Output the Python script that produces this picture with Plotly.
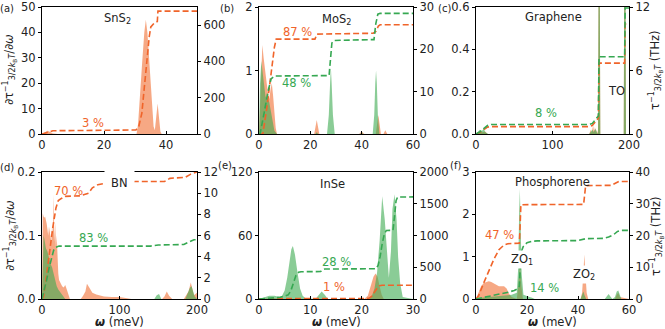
import plotly.graph_objects as go

# ---------------- données ----------------
# (a) SnS2
a_or_x = [0, 1, 1.8, 2.6, 3.5, 5, 30.5, 31, 31.7, 32.3, 33, 33.5, 34, 34.5, 35, 35.5, 36, 36.4, 36.9, 37.3, 37.7, 38.2, 38.6, 50]
a_or_y = [0, 0.8, 1.3, 0.8, 0.2, 0, 0, 4, 15, 28, 40, 45, 40, 30, 20, 10, 3, 1.5, 7, 12, 7, 1, 0, 0]
a_or_cx = [0, 1, 2, 3.5, 30.3, 31.2, 32.2, 33.3, 34.6, 35.1, 36.2, 37.2, 37.4, 50]
a_or_cy = [0, 6, 13, 18, 22, 40, 114, 316, 537, 590, 612, 620, 677, 677]

# (b) MoS2
b_or_x = [0, 0.5, 1, 1.3, 1.8, 2.5, 3, 3.5, 4, 4.5, 5, 5.5, 6, 6.5, 7, 21.5, 22.5, 23.5, 39, 40, 41, 45.5, 46.5, 47.5, 48.5, 49.2, 50, 60]
b_or_y = [0, 0.6, 1.3, 1.4, 1.2, 0.9, 0.8, 0.65, 0.55, 0.7, 0.8, 0.6, 0.3, 0.1, 0, 0, 0.22, 0, 0, 0.04, 0, 0, 0.3, 0, 0, 0.06, 0, 0]
b_gr_x = [0, 0.4, 0.9, 1.4, 2, 2.5, 3, 3.5, 4, 4.5, 5, 5.5, 6, 7, 22, 22.5, 23, 26.5, 27.2, 27.7, 28, 28.3, 28.8, 29.5,
          39.5, 40, 40.5, 44.3, 44.9, 45.3, 45.6, 45.9, 46.3, 46.9, 60]
b_gr_y = [0, 0.8, 1.15, 1.0, 0.75, 0.6, 0.55, 0.55, 0.5, 0.4, 0.3, 0.15, 0.05, 0, 0, 0.03, 0, 0, 0.3, 0.8, 1.05, 0.8, 0.3, 0,
          0, 0.04, 0, 0, 0.3, 0.8, 1.0, 0.8, 0.3, 0, 0]
b_or_cx = [0, 1.5, 3, 4.5, 6, 6.7, 21.8, 22.6, 44.5, 45.5, 46.5, 47.2, 60]
b_or_cy = [0, 0, 6, 14, 20.5, 22.4, 22.4, 23.6, 23.8, 24.2, 25.5, 25.8, 25.8]
b_gr_cx = [0, 0.4, 2, 3.5, 4.7, 6, 27.3, 27.8, 28.4, 29.3, 44.8, 45.5, 46.3, 47.2, 60]
b_gr_cy = [0, 0, 5, 10, 13, 13.7, 13.8, 17, 21.5, 22.1, 22.3, 26, 28.3, 28.5, 28.5]

# (c) Graphene
c_or_x = [0, 3, 6, 9, 12, 15, 148, 150, 151, 152, 153, 154, 155, 156, 157, 158, 159.5, 160.3, 161.7, 162.5, 193.1, 193.9, 195.3, 196.1, 200]
c_or_y = [0, 0.005, 0.01, 0.008, 0.012, 0, 0, 0.02, 0.005, 0.035, 0.01, 0.04, 0.015, 0.03, 0.005, 0.02, 0, 0.8, 0.8, 0, 0, 0.8, 0.8, 0, 0]
c_gr_x = [0, 2, 5, 8, 10, 12, 14, 16, 148, 150, 152, 154, 156, 158, 159.5, 160.3, 161.7, 162.5, 193.1, 193.9, 195.3, 196.1, 200]
c_gr_y = [0, 0.01, 0.02, 0.015, 0.025, 0.01, 0.005, 0, 0, 0.01, 0.02, 0.01, 0.025, 0.01, 0, 0.8, 0.8, 0, 0, 0.8, 0.8, 0, 0]
c_or_cx = [0, 5, 10, 15, 20, 148, 152, 155, 158, 160, 160.8, 194.3, 195, 200]
c_or_cy = [0, 0.15, 0.4, 0.65, 0.7, 0.7, 0.8, 1.1, 1.3, 1.5, 6.7, 6.7, 10.4, 10.4]
c_gr_cx = [0, 5, 10, 15, 20, 148, 152, 156, 158.5, 160, 160.8, 194.3, 195, 200]
c_gr_cy = [0, 0.2, 0.5, 0.8, 0.9, 0.9, 1.0, 1.3, 1.5, 1.7, 7.3, 7.3, 11.9, 11.9]

# (d) BN
d_or_x = [0, 1, 2, 3, 4, 5, 6, 7, 8, 9, 10, 11, 12, 13, 14, 15, 16, 17, 18, 19, 20, 21, 22, 24, 26, 28, 30, 32, 34, 36,
          50, 53, 56, 58, 60, 62, 65, 70, 75, 80, 90, 100, 110, 115, 155, 158, 161, 164, 168, 183, 186, 189, 192, 194, 196, 198, 200]
d_or_y = [0, 0.135, 0.13, 0.128, 0.13, 0.12, 0.119, 0.11, 0.1, 0.114, 0.105, 0.098, 0.09, 0.117, 0.1, 0.164, 0.09, 0.12, 0.08, 0.1, 0.06, 0.04, 0.03, 0.025, 0.02, 0.018, 0.022, 0.015, 0.008, 0,
          0, 0.005, 0.012, 0.024, 0.02, 0.016, 0.01, 0.007, 0.005, 0.004, 0.003, 0.003, 0.001, 0, 0, 0.004, 0.012, 0.005, 0, 0, 0.006, 0.012, 0.026, 0.018, 0.006, 0.008, 0.01]
d_gr_x = [0, 1, 2, 3, 4, 5, 7, 9, 11, 13, 15, 17, 19, 21, 24, 27, 30, 145, 148, 151, 154, 185, 188, 191, 193, 195, 197, 200]
d_gr_y = [0, 0.09, 0.1, 0.095, 0.088, 0.08, 0.075, 0.065, 0.055, 0.05, 0.04, 0.03, 0.02, 0.015, 0.01, 0.005, 0, 0, 0.006, 0.008, 0, 0, 0.01, 0.018, 0.02, 0.012, 0.004, 0]
d_or_cx = [0, 2, 6, 10, 14, 18, 21, 25, 30, 50, 55, 60, 65, 72, 80, 120, 158, 165, 185, 192, 200]
d_or_cy = [0, 0.2, 2.3, 4.6, 6.8, 8.6, 9.3, 9.5, 9.7, 9.75, 9.85, 10.0, 10.5, 10.8, 10.9, 11.1, 11.1, 11.4, 11.5, 11.8, 12.0]
d_gr_cx = [0, 3, 6, 9, 12, 15, 18, 22, 140, 150, 183, 190, 196, 200]
d_gr_cy = [0, 0.8, 1.8, 2.9, 3.9, 4.6, 4.9, 5.0, 5.0, 5.1, 5.15, 5.4, 5.6, 5.6]

# (e) InSe
e_or_x = [0, 1, 2, 3, 4, 20.5, 21.2, 21.8, 22.3, 22.7, 23.1, 23.5, 23.9, 24.3, 30]
e_or_y = [0, 0.5, 1, 0.8, 0, 0, 3, 12, 21, 24, 21, 12, 4, 0, 0]
e_gr_x = [0, 1, 2, 3, 4, 4.5, 5, 5.5, 6, 6.3, 6.6, 7.0, 7.5, 8, 8.5, 9, 11, 11.6, 12.2, 12.8, 13.4,
          21.5, 22, 22.5, 23, 23.5, 24, 24.5, 25, 25.3, 25.7, 26, 26.4, 26.8, 27.1, 27.5, 28, 30]
e_gr_y = [0, 1.5, 3, 3, 2, 3, 8, 20, 38, 47, 50, 42, 25, 10, 3, 1, 0, 4, 7, 4, 0,
          0, 3, 10, 25, 55, 97, 75, 35, 20, 45, 85, 99, 75, 40, 15, 2, 0]
e_or_cx = [0, 3, 5, 21, 21.5, 22, 22.5, 23, 23.5, 24, 30]
e_or_cy = [0, 5, 7, 8, 15, 45, 110, 170, 210, 217, 217]
e_gr_cx = [0, 2, 4, 5, 5.7, 6.2, 6.7, 7.2, 7.7, 8.2, 12.0, 12.4, 12.8, 22.8, 23.2, 23.6, 24.0, 24.4, 24.8, 26.1, 26.4, 26.7, 27.0, 30]
e_gr_cy = [0, 8, 25, 45, 65, 130, 260, 370, 420, 430, 432, 460, 472, 476, 530, 670, 870, 1020, 1079, 1082, 1300, 1550, 1605, 1608]

# (f) Phosphorene
f_or_x = [0, 1, 2, 3, 4, 5, 6, 7, 8, 9, 10, 11, 12, 13, 14, 15, 16, 16.6, 17.2, 17.8, 18.4, 41, 41.6, 42.1, 42.5, 42.9, 43.4, 44,
          54.5, 55.2, 55.8, 56.4, 60]
f_or_y = [0, 0.15, 0.3, 0.38, 0.4, 0.42, 0.4, 0.36, 0.33, 0.3, 0.3, 0.3, 0.25, 0.12, 0.05, 0.02, 0, 0.3, 0.85, 0.3, 0, 0, 0.15, 0.6, 1.05, 0.6, 0.15, 0,
          0, 0.1, 0.15, 0.05, 0]
f_gr_x = [0, 2, 5, 8, 11, 14, 16, 16.6, 16.9, 17.2, 17.5, 17.9, 18.6, 20, 21, 22, 23, 41, 41.6, 42.1, 42.6, 43.2,
          50.5, 51.3, 52, 52.7, 53.5, 54.5, 55.2, 55.8, 56.4, 57, 60]
f_gr_y = [0, 0.03, 0.05, 0.07, 0.08, 0.1, 0.15, 0.8, 2.0, 2.6, 1.8, 0.6, 0.1, 0.08, 0.05, 0.03, 0, 0, 0.08, 0.18, 0.08, 0,
          0, 0.08, 0.12, 0.06, 0, 0.05, 0.18, 0.2, 0.08, 0, 0]
f_or_cx = [0, 1, 3, 5, 7, 9, 11, 12.5, 14, 17.0, 17.3, 17.6, 42.2, 42.6, 43, 53, 54.5, 56, 60]
f_or_cy = [0, 1, 5, 9, 12.5, 15.5, 17, 17.4, 17.5, 17.6, 23, 29.7, 29.8, 33, 35.7, 35.8, 36.5, 37, 37]
f_gr_cx = [0, 3, 6, 10, 13, 15, 16.5, 17.0, 17.3, 17.6, 18.5, 20, 22, 24, 40, 41.5, 43, 50, 52, 54, 55.5, 57, 60]
f_gr_cy = [0, 0.5, 1.0, 1.6, 2.2, 2.7, 3.3, 4.0, 10, 14.5, 16.5, 17.7, 18.2, 18.3, 18.4, 18.8, 19.0, 19.1, 19.5, 20.3, 21.3, 21.6, 21.6]

# ---------------- style ----------------
W, H = 665, 329
OR_LINE = "#f0642a"
GR_LINE = "#36a852"
OR_FILL = "rgba(240,110,50,0.6)"
GR_FILL = "rgba(60,170,80,0.6)"
FONT = "DejaVu Sans"
TXT = "#222222"

cols = [(42, 197), (259, 413), (476, 629)]
rows = [(7, 134), (172, 299)]


def px(x):
    return x / W


def py(y):
    return 1 - y / H


panels = [
    # spectres, cumulés, axes x, axe gauche, axe droit
    dict(sp=[(a_or_x, a_or_y, OR_FILL)], cu=[(a_or_cx, a_or_cy, OR_LINE)],
         xr=[0, 50], xt=[0, 20, 40], yl=[0, 50], ylt=[0, 10, 20, 30, 40, 50], yr=[0, 700], yrt=[0, 200, 400, 600], fmt=""),
    dict(sp=[(b_or_x, b_or_y, OR_FILL), (b_gr_x, b_gr_y, GR_FILL)],
         cu=[(b_or_cx, b_or_cy, OR_LINE), (b_gr_cx, b_gr_cy, GR_LINE)],
         xr=[0, 60], xt=[0, 20, 40, 60], yl=[0, 2], ylt=[0, 1, 2], yr=[0, 30], yrt=[0, 10, 20, 30], fmt=""),
    dict(sp=[(c_or_x, c_or_y, OR_FILL), (c_gr_x, c_gr_y, GR_FILL)],
         cu=[(c_or_cx, c_or_cy, OR_LINE), (c_gr_cx, c_gr_cy, GR_LINE)],
         xr=[0, 200], xt=[0, 100, 200], yl=[0, 0.6], ylt=[0, 0.2, 0.4, 0.6], yr=[0, 12], yrt=[0, 6, 12], fmt=".1f"),
    dict(sp=[(d_or_x, d_or_y, OR_FILL), (d_gr_x, d_gr_y, GR_FILL)],
         cu=[(d_or_cx, d_or_cy, OR_LINE), (d_gr_cx, d_gr_cy, GR_LINE)],
         xr=[0, 200], xt=[0, 100, 200], yl=[0, 0.2], ylt=[0, 0.1, 0.2], yr=[0, 12], yrt=[0, 2, 4, 6, 8, 10, 12], fmt=".1f"),
    dict(sp=[(e_or_x, e_or_y, OR_FILL), (e_gr_x, e_gr_y, GR_FILL)],
         cu=[(e_or_cx, e_or_cy, OR_LINE), (e_gr_cx, e_gr_cy, GR_LINE)],
         xr=[0, 30], xt=[0, 10, 20, 30], yl=[0, 120], ylt=[0, 60, 120], yr=[0, 2000], yrt=[0, 500, 1000, 1500, 2000], fmt=""),
    dict(sp=[(f_or_x, f_or_y, OR_FILL), (f_gr_x, f_gr_y, GR_FILL)],
         cu=[(f_or_cx, f_or_cy, OR_LINE), (f_gr_cx, f_gr_cy, GR_LINE)],
         xr=[0, 60], xt=[0, 20, 40, 60], yl=[0, 3], ylt=[0, 1, 2, 3], yr=[0, 40], yrt=[0, 10, 20, 30, 40], fmt=""),
]

fig = go.Figure()
layout = {}
tickfont = dict(family=FONT, size=11.5, color=TXT)
common = dict(showline=True, linecolor="black", linewidth=1.2, tickcolor="black", ticklen=3,
              showgrid=False, zeroline=False, tickfont=tickfont, fixedrange=True, automargin=False)

for i, p in enumerate(panels):
    n = i + 1
    nr = n + 6
    xs = "" if n == 1 else str(n)
    c0, c1 = cols[i % 3]
    r0, r1 = rows[i // 3]

    for x, y, col in p["sp"]:
        fig.add_trace(go.Scatter(x=x, y=y, mode="lines", fill="tozeroy", fillcolor=col,
                                 line=dict(width=0, color=col), xaxis="x" + xs, yaxis="y" + xs,
                                 showlegend=False, hoverinfo="skip"))
    for x, y, col in p["cu"]:
        fig.add_trace(go.Scatter(x=x, y=y, mode="lines", line=dict(color=col, width=1.6, dash="6px,3px"),
                                 xaxis="x" + xs, yaxis="y" + str(nr), showlegend=False, hoverinfo="skip"))

    layout["xaxis" + xs] = dict(domain=[px(c0), px(c1)], anchor="y" + xs, range=p["xr"], tickvals=p["xt"],
                                mirror=True, ticks="inside", **common)
    layout["yaxis" + xs] = dict(domain=[py(r1), py(r0)], anchor="x" + xs, range=p["yl"], tickvals=p["ylt"],
                                tickformat=p["fmt"], ticks="outside", **common)
    layout["yaxis" + str(nr)] = dict(domain=[py(r1), py(r0)], anchor="x" + xs, overlaying="y" + xs, side="right",
                                     range=p["yr"], tickvals=p["yrt"], ticks="outside", **common)

fig.update_layout(template="none", **layout)

ann = []


def note(text, x, y, n, color=TXT, bg=None, pad=1):
    xs = "" if n == 1 else str(n)
    d = dict(text=text, x=x, y=y, xref="x" + xs, yref="y" + xs, showarrow=False,
             xanchor="center", yanchor="middle",
             font=dict(family=FONT, size=11.5, color=color), borderpad=pad)
    if bg:
        d["bgcolor"] = bg
    ann.append(d)


def paper_note(text, x, y, angle=0, size=11.5):
    ann.append(dict(text=text, x=px(x), y=py(y), xref="paper", yref="paper", showarrow=False,
                    xanchor="center", yanchor="middle", textangle=angle,
                    font=dict(family=FONT, size=size, color=TXT)))


note("SnS<sub>2</sub>", 24.5, 45.3, 1)
note("3 %", 16.5, 4.3, 1, OR_LINE)
note("MoS<sub>2</sub>", 30, 1.81, 2)
note("87 %", 14.9, 1.60, 2, OR_LINE)
note("48 %", 14.8, 0.81, 2, GR_LINE)
note("Graphene", 101, 0.551, 3)
note("8 %", 91.5, 0.098, 3, GR_LINE)
note("TO", 184, 0.203, 3)
note("BN", 100.6, 0.183, 4, bg="white", pad=6)
note("70 %", 34, 0.1705, 4, OR_LINE)
note("83 %", 67, 0.0956, 4, GR_LINE)
note("InSe", 14.3, 108.7, 5)
note("28 %", 15, 35.3, 5, GR_LINE)
note("1 %", 14.7, 11.3, 5, OR_LINE)
note("Phosphorene", 30.1, 2.77, 6)
note("47 %", 9.4, 1.52, 6, OR_LINE)
note("14 %", 27, 0.27, 6, GR_LINE)
note("ZO<sub>1</sub>", 17.9, 0.945, 6, bg="white")
note("ZO<sub>2</sub>", 42.5, 0.57, 6, bg="white")

# lettres des panneaux
for lab, x, y in [("(a)", 7, 8), ("(b)", 227, 8), ("(c)", 444, 8),
                  ("(d)", 7, 167), ("(e)", 225, 165), ("(f)", 455, 165)]:
    paper_note(lab, x, y, size=10)

# titres des axes
ylab = "∂τ<sup>−1</sup><sub>3/2<i>k</i><sub>B</sub><i>T</i></sub>/∂<i>ω</i>"
rlab = "τ<sup>−1</sup><sub>3/2<i>k</i><sub>B</sub><i>T</i></sub> (THz)"
for yc in [70, 236]:
    paper_note(ylab, 10, yc, angle=-90)
    paper_note(rlab, 656, yc, angle=-90)
for c0, c1 in cols:
    paper_note("<b><i>ω</i></b> (meV)", (c0 + c1) / 2, 322)

fig.update_layout(
    width=W, height=H,
    margin=dict(l=0, r=0, t=0, b=0),
    paper_bgcolor="white", plot_bgcolor="white",
    annotations=ann,
)

# la page garde sinon la marge de 8 px du navigateur
fig.write_html("out.html", config={"displayModeBar": False},
               post_script="document.body.style.margin='0';")
